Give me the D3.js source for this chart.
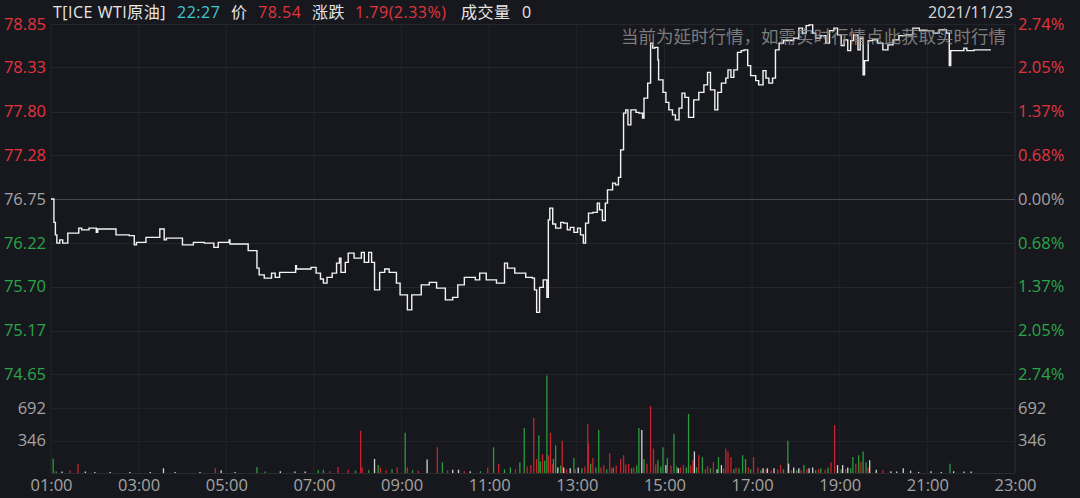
<!DOCTYPE html>
<html><head><meta charset="utf-8">
<script src="https://cdn.jsdelivr.net/npm/d3@7/dist/d3.min.js"></script>
<style>html,body{margin:0;padding:0;background:#17181d;overflow:hidden}</style>
</head><body><svg id="c" width="1080" height="498"></svg>
<script>
// ---------- DATA ----------
const prevClose = 76.75;
const priceTimes = ["01:00","01:04","01:06","01:08","01:12","01:16","01:23","01:38","01:42","01:52","02:02","02:04","02:29","02:47","02:54","02:57","03:10","03:29","03:35","03:38","04:00","04:15","04:30","04:43","04:49","05:04","05:05","05:30","05:42","05:45","05:52","06:02","06:07","06:13","06:35","06:36","06:56","07:03","07:09","07:13","07:18","07:25","07:31","07:35","07:37","07:43","07:47","07:55","08:05","08:09","08:15","08:19","08:23","08:30","08:37","08:43","08:53","08:58","09:08","09:14","09:27","09:38","09:48","10:00","10:10","10:17","10:26","10:41","10:47","10:56","11:10","11:21","11:25","11:35","11:50","11:59","12:02","12:05","12:09","12:14","12:19","12:21","12:23","12:27","12:31","12:38","12:42","12:47","12:51","12:56","13:01","13:05","13:09","13:12","13:16","13:22","13:28","13:31","13:35","13:39","13:42","13:49","13:53","13:57","14:00","14:04","14:07","14:10","14:14","14:21","14:25","14:30","14:32","14:37","14:41","14:44","14:47","14:51","14:52","14:58","15:02","15:06","15:11","15:15","15:20","15:24","15:28","15:33","15:40","15:47","15:54","15:59","16:03","16:09","16:13","16:18","16:24","16:27","16:31","16:35","16:40","16:45","16:49","16:54","16:58","17:05","17:09","17:15","17:19","17:23","17:28","17:32","17:37","17:43","17:57","18:04","18:09","18:14","18:18","18:23","18:27","18:34","18:41","18:46","18:52","18:57","19:02","19:06","19:11","19:15","19:19","19:25","19:28","19:32","19:34","19:39","19:45","19:52","19:59","20:06","20:13","20:21","20:31","20:40","20:49","20:58","21:08","21:16","21:26","21:30","21:32","21:50","21:54","22:04","22:27"];
const prices = [76.75,76.47,76.32,76.22,76.26,76.22,76.34,76.40,76.38,76.40,76.35,76.39,76.32,76.31,76.20,76.23,76.29,76.39,76.26,76.28,76.20,76.23,76.22,76.17,76.23,76.26,76.21,76.13,75.92,75.84,75.80,75.86,75.81,75.87,75.95,75.91,75.93,75.86,75.79,75.74,75.81,75.86,75.98,76.04,75.87,75.99,76.10,76.04,76.11,75.99,76.11,75.99,75.66,75.87,75.91,75.87,75.74,75.60,75.42,75.60,75.72,75.75,75.68,75.54,75.57,75.72,75.81,75.78,75.86,75.78,75.74,75.98,75.92,75.86,75.81,75.80,75.66,75.39,75.69,75.78,75.57,76.50,76.64,76.45,76.40,76.47,76.46,76.38,76.41,76.35,76.40,76.32,76.22,76.46,76.58,76.59,76.70,76.62,76.49,76.70,76.86,76.94,76.92,77.01,77.34,77.78,77.82,77.64,77.82,77.79,77.78,77.72,77.96,78.14,78.62,78.56,78.57,78.42,78.18,78.03,77.91,77.82,77.76,77.70,77.84,78.02,77.97,77.73,77.94,78.03,78.12,78.27,78.06,77.82,78.03,78.14,78.20,78.30,78.21,78.30,78.51,78.53,78.54,78.35,78.23,78.17,78.12,78.29,78.20,78.14,78.20,78.54,78.62,78.65,78.68,78.80,78.74,78.83,78.84,78.74,78.68,78.71,78.62,78.77,78.80,78.72,78.59,78.66,78.53,78.65,78.72,78.54,78.68,78.24,78.41,78.65,78.66,78.62,78.54,78.60,78.66,78.71,78.72,78.80,78.77,78.77,78.74,78.78,78.74,78.35,78.53,78.56,78.53,78.54,78.54];

const volTimes = ["01:03","01:07","01:15","01:26","01:37","01:47","02:00","02:21","02:48","03:16","03:34","03:50","04:24","04:45","04:53","05:12","05:42","05:53","06:14","06:34","06:48","07:06","07:13","07:22","07:33","07:47","07:57","08:04","08:06","08:15","08:23","08:28","08:31","08:39","08:47","08:54","09:05","09:08","09:15","09:23","09:35","09:49","09:56","10:03","10:10","10:18","10:26","10:34","10:48","10:58","11:06","11:13","11:21","11:29","11:36","11:42","11:48","11:52","11:57","12:01","12:05","12:08","12:10","12:13","12:16","12:19","12:21","12:24","12:27","12:28","12:31","12:34","12:38","12:40","12:42","12:46","12:51","12:56","12:58","13:02","13:07","13:11","13:15","13:16","13:19","13:22","13:26","13:30","13:33","13:37","13:41","13:45","13:48","13:50","13:54","14:00","14:04","14:07","14:11","14:15","14:18","14:22","14:25","14:29","14:32","14:36","14:41","14:45","14:48","14:51","14:55","14:58","15:02","15:04","15:09","15:13","15:17","15:19","15:22","15:26","15:30","15:33","15:36","15:39","15:41","15:44","15:47","15:52","15:56","15:59","16:03","16:07","16:12","16:14","16:18","16:21","16:24","16:27","16:31","16:35","16:38","16:42","16:47","16:51","16:55","16:58","17:02","17:08","17:12","17:15","17:19","17:21","17:26","17:30","17:35","17:39","17:43","17:49","17:50","17:54","17:57","18:01","18:04","18:07","18:11","18:15","18:18","18:23","18:27","18:31","18:34","18:40","18:44","18:48","18:53","18:57","19:02","19:04","19:08","19:11","19:15","19:18","19:22","19:26","19:29","19:32","19:36","19:39","19:41","19:50","19:59","20:10","20:18","20:27","20:37","20:48","21:05","21:19","21:31","21:36","21:50","22:00"];
const volValues = [155,20,15,30,95,15,10,12,10,12,50,10,10,50,30,10,65,15,20,15,15,30,35,20,65,35,25,450,60,30,150,85,60,30,40,60,430,60,30,25,145,275,115,30,35,35,20,20,20,60,275,95,40,60,40,115,480,70,85,590,150,400,120,200,130,1040,190,430,100,150,295,60,80,345,60,40,50,160,40,60,50,70,520,315,100,160,60,460,60,85,40,210,50,60,80,150,190,90,95,50,60,80,480,460,150,100,715,260,90,135,70,275,85,160,80,420,70,50,60,85,60,630,80,135,230,60,190,170,40,70,50,115,40,170,85,50,260,230,170,40,60,50,190,150,60,40,170,60,30,50,40,50,30,50,40,85,40,345,100,30,60,30,50,30,85,40,50,60,30,40,50,35,60,115,510,85,40,85,40,60,50,170,100,190,120,230,115,60,135,35,30,20,15,50,25,12,20,12,100,20,15,15];
const volDirs = ["d","d","f","u","u","f","f","f","f","f","f","f","f","u","f","f","d","d","f","f","f","d","d","u","u","u","d","u","u","d","f","d","u","u","d","u","d","u","d","u","f","u","d","u","f","f","u","f","d","u","d","u","d","d","u","d","d","u","u","u","u","d","d","u","d","d","u","u","u","d","d","f","d","u","f","u","f","d","u","f","d","u","u","u","d","u","d","d","u","u","d","u","u","d","u","u","u","u","u","d","u","d","d","f","d","u","u","u","u","d","d","d","f","d","u","d","d","f","u","u","d","d","u","u","f","d","u","d","u","u","d","u","f","d","f","u","u","u","u","d","u","d","d","d","u","d","u","u","d","f","u","f","u","f","u","u","d","d","f","u","f","d","f","u","d","u","f","f","d","u","d","u","d","u","u","f","d","f","u","f","d","d","u","d","u","d","d","u","f","f","u","f","f","f","f","f","f","f","d","f","f","f"];

const priceTickValues = [78.85, 78.33, 77.80, 77.28, 76.75, 76.22, 75.70, 75.17, 74.65];
const priceTickLabels = ["78.85","78.33","77.80","77.28","76.75","76.22","75.70","75.17","74.65"];
const pctTickLabels = ["2.74%","2.05%","1.37%","0.68%","0.00%","0.68%","1.37%","2.05%","2.74%"];
const volTickValues = [692, 346];
const volTickLabels = ["692","346"];
const timeTicks = ["01:00","03:00","05:00","07:00","09:00","11:00","13:00","15:00","17:00","19:00","21:00","23:00"];

const headerParts = [
  {t:"T[ICE WTI原油]", c:"#e6e6e6", x:53},
  {t:"22:27", c:"#3ec8d4", x:177},
  {t:"价", c:"#e6e6e6", x:231},
  {t:"78.54", c:"#e3343e", x:258},
  {t:"涨跌", c:"#e6e6e6", x:312},
  {t:"1.79(2.33%)", c:"#e3343e", x:355},
  {t:"成交量", c:"#e6e6e6", x:461},
  {t:"0", c:"#e6e6e6", x:522}
];
const dateText = "2021/11/23";
const noticeText = "当前为延时行情，如需实时行情点此获取实时行情";

// ---------- DRAW ----------
const toMin = s => { const [h,m] = s.split(":"); return (+h)*60 + (+m); };
const svg = d3.select("#c");
const W = 1080, H = 498;
const L = 51, R = 1015, T = 24, PB = 374, VB = 473;
const RED = "#e3343e", GREEN = "#2aa64a", GRAY = "#a3a3a3";
const FONT = "'Open Sans','Noto Sans CJK SC',sans-serif";

svg.append("rect").attr("width", W).attr("height", H).attr("fill", "#17181d");

const x = d3.scaleLinear().domain([toMin("01:00"), toMin("23:00")]).range([L, R]);
const y = d3.scaleLinear().domain([74.65, 78.85]).range([PB, T]);
const yv = d3.scaleLinear().domain([0, 1057]).range([VB, PB]);

const grid = svg.append("g");
grid.selectAll("line.v").data(timeTicks).join("line")
  .attr("x1", d => x(toMin(d))).attr("x2", d => x(toMin(d)))
  .attr("y1", T).attr("y2", VB)
  .attr("stroke", (d,i) => i === timeTicks.length-1 ? "#2d2f35" : "#222429").attr("stroke-width", 1);
grid.selectAll("line.p").data(priceTickValues).join("line")
  .attr("x1", L).attr("x2", R)
  .attr("y1", d => Math.round(y(d)) + 0.5).attr("y2", d => Math.round(y(d)) + 0.5)
  .attr("stroke", d => d === prevClose ? "#46484e" : "#24262b").attr("stroke-width", 1);
grid.selectAll("line.vg").data(volTickValues.concat([0])).join("line")
  .attr("x1", L).attr("x2", R)
  .attr("y1", d => Math.round(yv(d)) + 0.5).attr("y2", d => Math.round(yv(d)) + 0.5)
  .attr("stroke", d => d === 0 ? "#2a2c31" : "#212328").attr("stroke-width", 1);

const volColor = {u: "#c8232d", d: "#2a9c3c", f: "#d2d2d2"};
svg.append("g").selectAll("line").data(volTimes).join("line")
  .attr("x1", d => x(toMin(d))).attr("x2", d => x(toMin(d)))
  .attr("y1", yv(0)).attr("y2", (d,i) => yv(volValues[i]))
  .attr("stroke", (d,i) => volColor[volDirs[i]]).attr("stroke-width", 1.3);

const pts = priceTimes.map((t,i) => [toMin(t), prices[i]]);
svg.append("path").datum(pts)
  .attr("d", d3.line().x(d => x(d[0])).y(d => y(d[1])).curve(d3.curveStepAfter))
  .attr("fill", "none").attr("stroke", "#f4f4f4").attr("stroke-width", 1.4);

svg.append("text").attr("x", 1006).attr("y", 43).attr("text-anchor", "end")
  .attr("font-family", "'Noto Sans CJK SC',sans-serif").attr("font-size", 17.5)
  .attr("fill", "#8c8c8c").attr("fill-opacity", 0.88).text(noticeText);

svg.append("g").selectAll("text").data(headerParts).join("text")
  .attr("x", d => d.x).attr("y", 18)
  .attr("font-family", FONT).attr("font-size", 16).attr("letter-spacing", 0.5)
  .attr("fill", d => d.c).text(d => d.t);
svg.append("text").attr("x", 1013).attr("y", 18).attr("text-anchor", "end")
  .attr("font-family", FONT).attr("font-size", 16).attr("fill", "#d8d8d8").text(dateText);

const colorFor = v => v > prevClose ? RED : (v < prevClose ? GREEN : GRAY);
function styleAxis(g) {
  g.select(".domain").remove();
  g.selectAll(".tick line").remove();
  g.attr("font-family", FONT).attr("font-size", 16.5);
}
svg.append("g").attr("transform", `translate(${L},0)`)
  .call(d3.axisLeft(y).tickValues(priceTickValues).tickSize(0).tickPadding(5)
    .tickFormat((d,i) => priceTickLabels[i]))
  .call(styleAxis)
  .selectAll("text").attr("fill", d => colorFor(d));
svg.append("g").attr("transform", `translate(${R},0)`)
  .call(d3.axisRight(y).tickValues(priceTickValues).tickSize(0).tickPadding(3)
    .tickFormat((d,i) => pctTickLabels[i]))
  .call(styleAxis)
  .selectAll("text").attr("fill", d => colorFor(d));
svg.append("g").attr("transform", `translate(${L},0)`)
  .call(d3.axisLeft(yv).tickValues(volTickValues).tickSize(0).tickPadding(5)
    .tickFormat((d,i) => volTickLabels[i]))
  .call(styleAxis)
  .selectAll("text").attr("fill", GRAY);
svg.append("g").attr("transform", `translate(${R},0)`)
  .call(d3.axisRight(yv).tickValues(volTickValues).tickSize(0).tickPadding(3)
    .tickFormat((d,i) => volTickLabels[i]))
  .call(styleAxis)
  .selectAll("text").attr("fill", GRAY);
svg.append("g").attr("transform", `translate(0,${VB})`)
  .call(d3.axisBottom(x).tickValues(timeTicks.map(toMin)).tickSize(0).tickPadding(6)
    .tickFormat((d,i) => timeTicks[i]))
  .call(styleAxis)
  .selectAll("text").attr("fill", GRAY);
</script>
</body></html>
